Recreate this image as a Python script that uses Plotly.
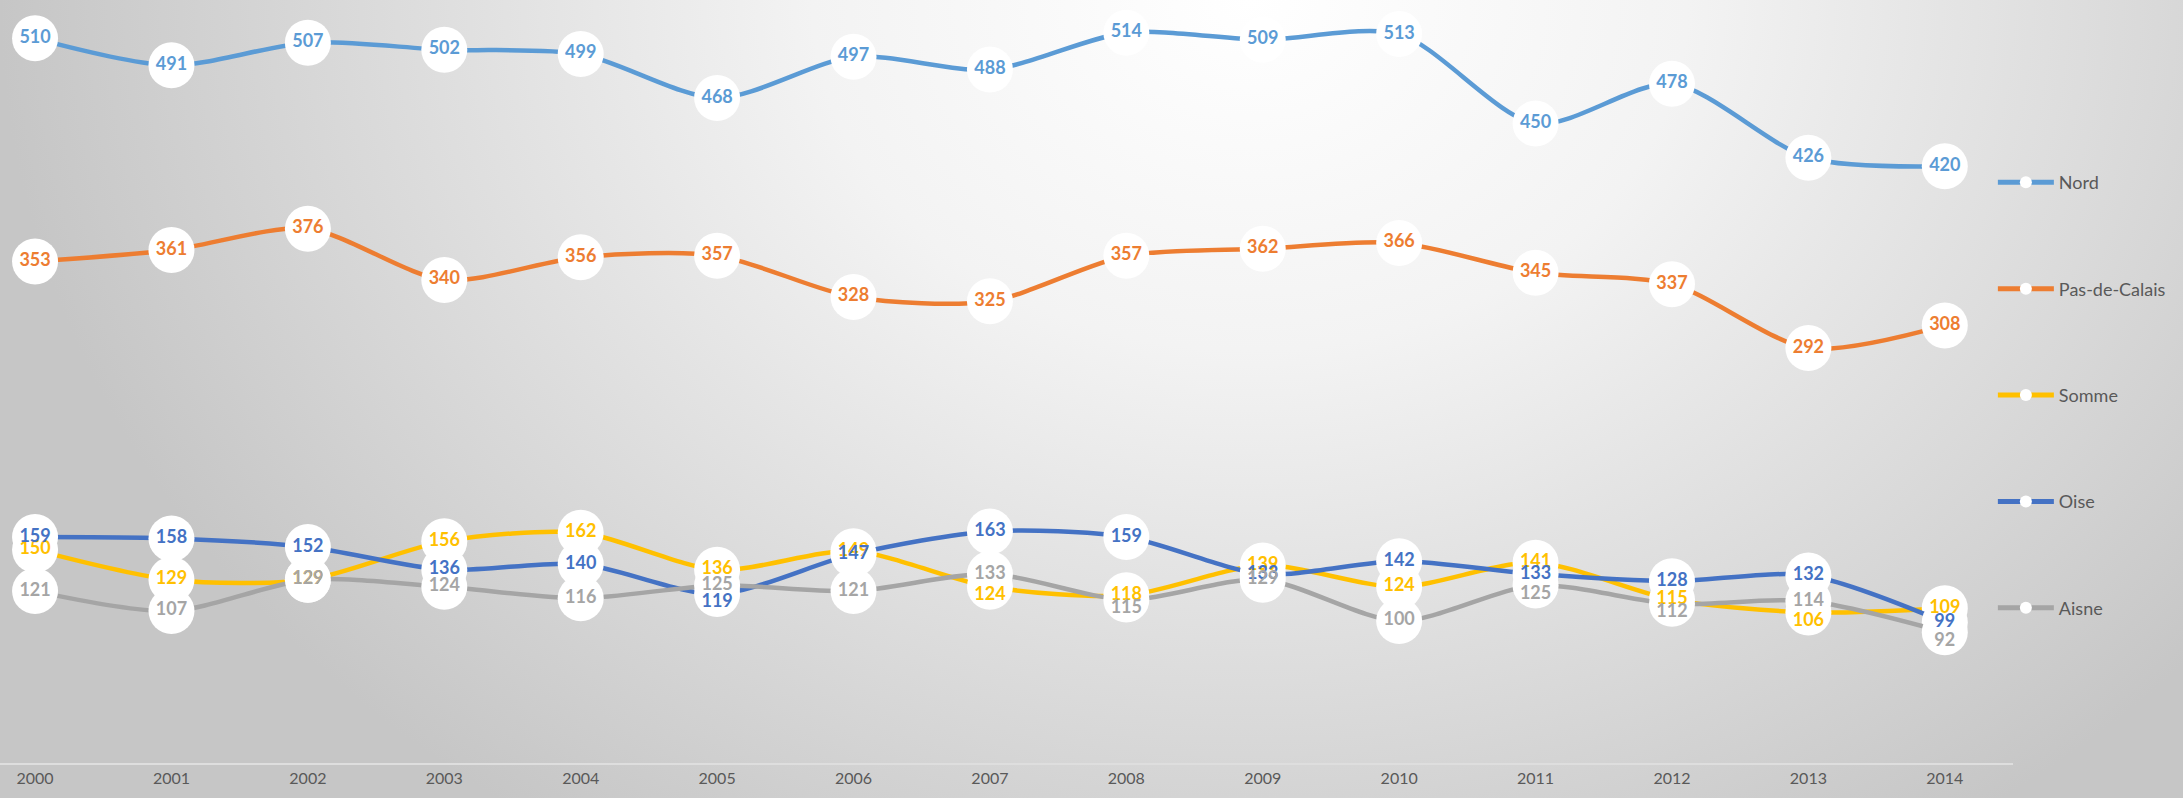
import base64
import plotly.graph_objects as go

years = list(range(2000, 2015))
nord = [510, 491, 507, 502, 499, 468, 497, 488, 514, 509, 513, 450, 478, 426, 420]
pas_de_calais = [353, 361, 376, 340, 356, 357, 328, 325, 357, 362, 366, 345, 337, 292, 308]
somme = [150, 129, 129, 156, 162, 136, 149, 124, 118, 139, 124, 141, 115, 106, 109]
oise = [159, 158, 152, 136, 140, 119, 147, 163, 159, 133, 142, 133, 128, 132, 99]
aisne = [121, 107, 129, 124, 116, 125, 121, 133, 115, 129, 100, 125, 112, 114, 92]

C, B = "middle center", "bottom center"
label_pos = {
    "Nord": [C] * 15,
    "Pas-de-Calais": [C] * 15,
    "Somme": [C, C, C, C, C, C, C, B, C, C, C, C, C, B, C],
    "Oise": [C, C, C, C, C, B, C, C, C, C, C, C, C, C, C],
    "Aisne": [C, C, C, C, C, C, C, C, B, C, C, B, B, C, B],
}

series = [
    ("Nord", nord, "#5B9BD5"),
    ("Pas-de-Calais", pas_de_calais, "#ED7D31"),
    ("Somme", somme, "#FFC000"),
    ("Oise", oise, "#4472C4"),
    ("Aisne", aisne, "#A5A5A5"),
]

W, H = 2183, 798
ML, MR, MT, MB = 0, 170, 0, 35
PW, PH = W - ML - MR, H - MT - MB
svg = f'''<svg xmlns="http://www.w3.org/2000/svg" width="{W}" height="{H}" preserveAspectRatio="none">
<defs><radialGradient id="g" gradientUnits="userSpaceOnUse" cx="1250" cy="0" r="1250"
 gradientTransform="translate(1250 0) scale(1 0.8) translate(-1250 0)">
<stop offset="0" stop-color="#ffffff"/><stop offset="0.35" stop-color="#f3f3f3"/>
<stop offset="1" stop-color="#c6c6c6"/></radialGradient></defs>
<rect width="{W}" height="{H}" fill="url(#g)"/></svg>'''
bg = "data:image/svg+xml;base64," + base64.b64encode(svg.encode()).decode()

FONT = "Lato"
fig = go.Figure()
for name, vals, col in series:
    fig.add_trace(go.Scatter(
        x=years, y=vals, name=name, mode="lines+markers",
        line=dict(color=col, width=4.5, shape="spline", smoothing=0.8),
        marker=dict(size=46, color="white", line=dict(width=0)),
        legendgroup=name, hoverinfo="skip",
    ))
for name, vals, col in series:
    fig.add_trace(go.Scatter(
        x=years, y=vals, mode="text", text=[str(v) for v in vals],
        textposition=label_pos[name], showlegend=False,
        textfont=dict(family=FONT, size=18, color=col, weight="bold"),
        hoverinfo="skip",
    ))

fig.update_layout(
    width=W, height=H,
    margin=dict(l=ML, r=MR, t=MT, b=MB, autoexpand=False),
    paper_bgcolor="#d0d0d0", plot_bgcolor="rgba(0,0,0,0)",
    images=[dict(source=bg, xref="paper", yref="paper", x=-ML / PW, y=1 + MT / PH,
                 sizex=W / PW, sizey=H / PH,
                 xanchor="left", yanchor="top", sizing="stretch", layer="below")],
    showlegend=True,
    legend=dict(x=0.99, y=0.785, xanchor="left", yanchor="top",
                bgcolor="rgba(0,0,0,0)", tracegroupgap=80, itemsizing="constant",
                itemwidth=56, font=dict(family=FONT, size=18, color="#595959")),
    xaxis=dict(range=[1999.743, 2014.5], tickvals=years, ticktext=[str(y) for y in years],
               showgrid=False, zeroline=False, showline=True, linecolor="#dedede", linewidth=1.5,
               ticks="", tickfont=dict(family=FONT, size=16, color="#595959")),
    yaxis=dict(range=[0, 537], visible=False, showgrid=False),
)
fig.write_html("out.html", config={"displayModeBar": False},
               post_script="document.body.style.margin='0';document.body.style.overflow='hidden';")
